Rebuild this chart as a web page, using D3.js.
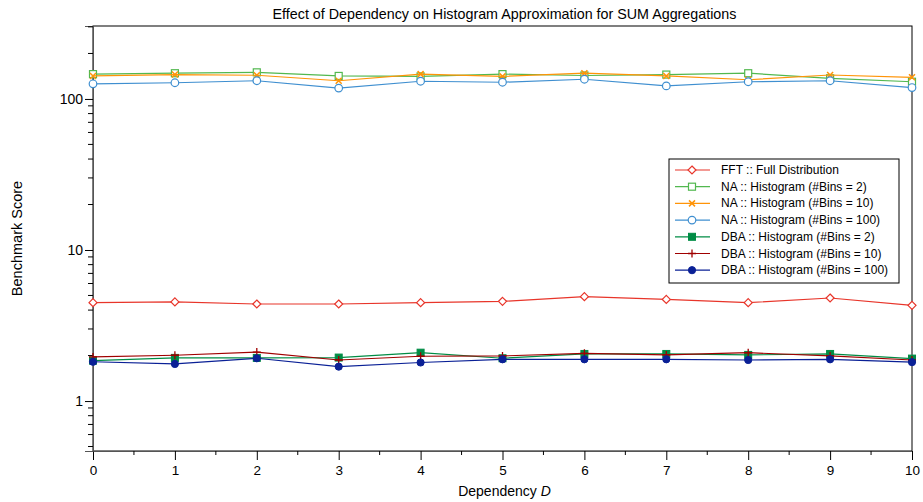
<!DOCTYPE html>
<html>
<head>
<meta charset="utf-8">
<script src="https://cdn.jsdelivr.net/npm/d3@7"></script>
<style>
  body { margin: 0; background: #fff; }
  svg { font-family: "Liberation Sans", Arial, sans-serif; }
</style>
</head>
<body>
<svg width="923" height="502"></svg>
<script>
// x values (dependency D)
const depD = [0, 1, 2, 3, 4, 5, 6, 7, 8, 9, 10];

// series values
const fftFull = [4.48, 4.53, 4.39, 4.39, 4.48, 4.57, 4.91, 4.71, 4.48, 4.81, 4.30];
const naBins2 = [146, 148, 150, 142, 141, 146, 143, 145, 148, 137, 130];
const naBins10 = [142, 145, 143.5, 132, 146, 141, 148, 142, 134, 144, 139];
const naBins100 = [126, 128, 132, 118, 131, 129, 135, 122, 130, 132, 119];
const dbaBins2 = [1.85, 1.93, 1.93, 1.94, 2.09, 1.92, 2.05, 2.05, 2.02, 2.05, 1.91];
const dbaBins10 = [1.96, 2.01, 2.11, 1.87, 1.98, 1.99, 2.07, 2.02, 2.09, 1.99, 1.87];
const dbaBins100 = [1.82, 1.76, 1.92, 1.69, 1.80, 1.89, 1.89, 1.89, 1.87, 1.89, 1.81];

const seriesNames = [
  "FFT :: Full Distribution",
  "NA :: Histogram (#Bins = 2)",
  "NA :: Histogram (#Bins = 10)",
  "NA :: Histogram (#Bins = 100)",
  "DBA :: Histogram (#Bins = 2)",
  "DBA :: Histogram (#Bins = 10)",
  "DBA :: Histogram (#Bins = 100)"
];
const yTickLabels = [1, 10, 100];

// styles
const seriesStyle = [
  { color: "#e8352a", marker: "diamondOpen" },
  { color: "#52b84f", marker: "squareOpen" },
  { color: "#ff9408", marker: "x" },
  { color: "#3f8fd0", marker: "circleOpen" },
  { color: "#008c45", marker: "squareFilled" },
  { color: "#a00000", marker: "plus" },
  { color: "#0a2096", marker: "circleFilled" }
];
const seriesData = [fftFull, naBins2, naBins10, naBins100, dbaBins2, dbaBins10, dbaBins100];

const width = 923, height = 502;
const margin = { top: 26, right: 11, bottom: 51, left: 93 };

const svg = d3.select("svg");

const x = d3.scaleLinear()
  .domain([0, 10])
  .range([margin.left, width - margin.right]);

const y = d3.scaleLog()
  .domain([0.467, 304])
  .range([height - margin.bottom, margin.top]);

// frame
svg.append("rect")
  .attr("x", margin.left)
  .attr("y", margin.top)
  .attr("width", width - margin.right - margin.left)
  .attr("height", height - margin.bottom - margin.top)
  .attr("fill", "none")
  .attr("stroke", "#000")
  .attr("stroke-width", 1);

// x axis
const xAxis = d3.axisBottom(x)
  .tickValues(depD)
  .tickFormat(d3.format("d"))
  .tickSize(9)
  .tickPadding(5);
const gx = svg.append("g")
  .attr("transform", `translate(0,${height - margin.bottom})`)
  .call(xAxis);
gx.select(".domain").attr("stroke", "#555");
gx.selectAll("text")
  .attr("font-size", 13.5)
  .attr("fill", "#000");

// minor x ticks at halves
svg.append("g")
  .selectAll("line")
  .data(d3.range(0.5, 10, 1))
  .join("line")
  .attr("x1", d => x(d)).attr("x2", d => x(d))
  .attr("y1", height - margin.bottom)
  .attr("y2", height - margin.bottom + 4)
  .attr("stroke", "#000");

// y axis (major)
const yAxis = d3.axisLeft(y)
  .tickValues(yTickLabels)
  .tickFormat(d3.format("d"))
  .tickSize(8)
  .tickPadding(2);
const gy = svg.append("g")
  .attr("transform", `translate(${margin.left},0)`)
  .call(yAxis);
gy.select(".domain").attr("stroke", "#555");
gy.selectAll("text")
  .attr("font-size", 14)
  .attr("fill", "#000");

// y axis minor ticks
const minorY = y.ticks().filter(v => !yTickLabels.includes(v) && v >= y.domain()[0] && v <= y.domain()[1]);
svg.append("g")
  .selectAll("line")
  .data(minorY)
  .join("line")
  .attr("x1", margin.left - 5).attr("x2", margin.left)
  .attr("y1", d => y(d)).attr("y2", d => y(d))
  .attr("stroke", "#000");

// lines and markers
const line = d3.line()
  .x((d, i) => x(depD[i]))
  .y(d => y(d));

function drawMarker(g, type, color, cx, cy) {
  if (type === "diamondOpen") {
    g.append("path")
      .attr("d", `M${cx},${cy - 4}L${cx + 4},${cy}L${cx},${cy + 4}L${cx - 4},${cy}Z`)
      .attr("fill", "#fff").attr("stroke", color).attr("stroke-width", 1.2);
  } else if (type === "squareOpen") {
    g.append("rect")
      .attr("x", cx - 3.5).attr("y", cy - 3.5).attr("width", 7).attr("height", 7)
      .attr("fill", "#fff").attr("stroke", color).attr("stroke-width", 1.2);
  } else if (type === "squareFilled") {
    g.append("rect")
      .attr("x", cx - 3.5).attr("y", cy - 3.5).attr("width", 7).attr("height", 7)
      .attr("fill", color).attr("stroke", color);
  } else if (type === "circleOpen") {
    g.append("circle")
      .attr("cx", cx).attr("cy", cy).attr("r", 3.8)
      .attr("fill", "#fff").attr("stroke", color).attr("stroke-width", 1.2);
  } else if (type === "circleFilled") {
    g.append("circle")
      .attr("cx", cx).attr("cy", cy).attr("r", 3.6)
      .attr("fill", color).attr("stroke", color);
  } else if (type === "x") {
    g.append("path")
      .attr("d", `M${cx - 3},${cy - 3}L${cx + 3},${cy + 3}M${cx - 3},${cy + 3}L${cx + 3},${cy - 3}`)
      .attr("stroke", color).attr("stroke-width", 1.5);
  } else if (type === "plus") {
    g.append("path")
      .attr("d", `M${cx - 4},${cy}L${cx + 4},${cy}M${cx},${cy - 4}L${cx},${cy + 4}`)
      .attr("stroke", color).attr("stroke-width", 1.3);
  }
}

seriesData.forEach((vals, s) => {
  const st = seriesStyle[s];
  const g = svg.append("g");
  g.append("path")
    .datum(vals)
    .attr("d", line)
    .attr("fill", "none")
    .attr("stroke", st.color)
    .attr("stroke-width", 1.2);
  vals.forEach((v, i) => drawMarker(g, st.marker, st.color, x(depD[i]), y(v)));
});

// legend
const legX = 669, legY = 159, legW = 230, legH = 124, rowH = 16.7;
const leg = svg.append("g");
leg.append("rect")
  .attr("x", legX).attr("y", legY).attr("width", legW).attr("height", legH)
  .attr("fill", "#fff").attr("stroke", "#000").attr("stroke-width", 1);
seriesNames.forEach((name, s) => {
  const st = seriesStyle[s];
  const ry = legY + 11 + s * rowH;
  leg.append("line")
    .attr("x1", legX + 6).attr("x2", legX + 41)
    .attr("y1", ry).attr("y2", ry)
    .attr("stroke", st.color).attr("stroke-width", 1.2);
  drawMarker(leg, st.marker, st.color, legX + 23, ry);
  leg.append("text")
    .attr("x", legX + 52)
    .attr("y", ry + 4)
    .attr("font-size", 12)
    .text(name);
});

// title
svg.append("text")
  .attr("x", (margin.left + width - margin.right) / 2 + 2)
  .attr("y", 19)
  .attr("text-anchor", "middle")
  .attr("font-size", 14.3)
  .text("Effect of Dependency on Histogram Approximation for SUM Aggregations");

// axis labels
svg.append("text")
  .attr("transform", `translate(22,${(margin.top + height - margin.bottom) / 2}) rotate(-90)`)
  .attr("text-anchor", "middle")
  .attr("font-size", 14.5)
  .text("Benchmark Score");

const xl = svg.append("text")
  .attr("x", (margin.left + width - margin.right) / 2 + 2)
  .attr("y", 496)
  .attr("text-anchor", "middle")
  .attr("font-size", 14);
xl.append("tspan").text("Dependency ");
xl.append("tspan").attr("font-style", "italic").text("D");
</script>
</body>
</html>
